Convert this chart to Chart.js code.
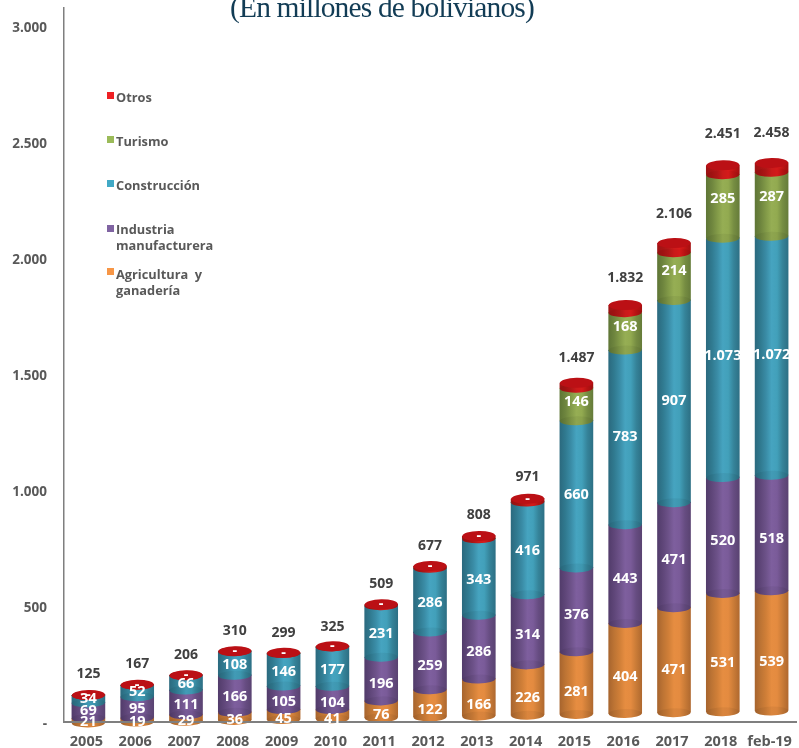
<!DOCTYPE html>
<html lang="es">
<head>
    <meta charset="UTF-8">
    <title>En millones de bolivianos</title>
    <script src="https://cdn.jsdelivr.net/npm/chart.js"></script>
    <style>
        body { margin: 0; background: #fff; }
        canvas { display: block; }
    </style>
</head>
<body>
    <canvas id="chart" width="799" height="748"></canvas>

    <script>
        const years = ['2005','2006','2007','2008','2009','2010','2011','2012','2013','2014','2015','2016','2017','2018','feb-19'];
        const agricultura = [21,19,29,36,45,41,76,122,166,226,281,404,471,531,539];
        const industria = [69,95,111,166,105,104,196,259,286,314,376,443,471,520,518];
        const construccion = [34,52,66,108,146,177,231,286,343,416,660,783,907,1073,1072];
        const turismo = [0,0,0,0,0,0,0,0,0,0,146,168,214,285,287];
        const otros = [1,1,0,0,3,3,6,10,13,15,24,34,43,42,42];
        const totals = [125,167,206,310,299,325,509,677,808,971,1487,1832,2106,2451,2458];
        const yTicks = [0,500,1000,1500,2000,2500,3000];

        const BAR_W = 33;
        const FONT = '"Open Sans", sans-serif';

        // left edge -> right edge of each cylinder
        const palettes = {
            agricultura: ['#a8652e','#bd7434','#d07f38','#e68d41','#e48b40','#c97b37','#b0692f'],
            industria: ['#523c6b','#5f4679','#6d5289','#7e5f9e','#7a5b99','#664c81','#5a4372'],
            construccion: ['#2b6a7f','#307a90','#3a8ca6','#46a4c0','#42a0ba','#358399','#2d7085'],
            turismo: ['#5f7636','#6e853e','#829a48','#96ae54','#92aa50','#768d42','#667c3a'],
            otros: ['#9c1414','#a81414','#b81818','#d41c1c','#e01c1c','#c01414','#a31010']
        };

        function barFill(name) {
            return function (c) {
                const x = c.chart.scales.x ? c.chart.scales.x.getPixelForValue(c.dataIndex) : NaN;
                // chart.js also asks before the layout is done
                if (!isFinite(x)) return palettes[name][3];
                const g = c.chart.ctx.createLinearGradient(x - BAR_W / 2, 0, x + BAR_W / 2, 0);
                palettes[name].forEach((col, i, all) => g.addColorStop(i / (all.length - 1), col));
                return g;
            };
        }

        // the bars lean up slightly towards the right, like the 3D original
        function lean(ctx) {
            ctx.transform(1, -0.0175, 0, 1, 0, 2.5);
        }

        const legendItems = [
            { color: '#ee2024', box: 92, text: 98, lines: ['Otros'] },
            { color: '#9bbb59', box: 136, text: 142, lines: ['Turismo'] },
            { color: '#41a9c6', box: 180, text: 186, lines: ['Construcción'] },
            { color: '#8064a2', box: 225, text: 230, lines: ['Industria', 'manufacturera'] },
            { color: '#f79646', box: 268, text: 275, lines: ['Agricultura  y', 'ganadería'] }
        ];

        const cylinders = {
            id: 'cylinders',
            beforeDatasetDraw(chart) {
                chart.ctx.save();
                lean(chart.ctx);
            },
            afterDatasetDraw(chart) {
                chart.ctx.restore();
            },
            afterDatasetsDraw(chart) {
                const ctx = chart.ctx;
                ctx.save();
                lean(ctx);
                chart.data.datasets.forEach((ds, d) => {
                    chart.getDatasetMeta(d).data.forEach((bar, i) => {
                        if (ds.data[i] === 0 && d !== 4) return;
                        const fill = barFill(ds.key)({ chart: chart, dataIndex: i });
                        ctx.beginPath();
                        ctx.ellipse(bar.x, bar.base, BAR_W / 2, 4.5, 0, 0, Math.PI * 2);
                        ctx.fillStyle = fill;
                        ctx.fill();
                        ctx.fillStyle = 'rgba(0,0,0,0.05)';
                        ctx.fill();
                    });
                });
                // red lid
                chart.getDatasetMeta(4).data.forEach(bar => {
                    ctx.beginPath();
                    ctx.ellipse(bar.x, bar.y, BAR_W / 2, 5, 0, 0, Math.PI * 2);
                    ctx.fillStyle = '#bb1015';
                    ctx.fill();
                });
                ctx.restore();
            },
            afterDraw(chart) {
                const ctx = chart.ctx;
                const y = chart.scales.y;
                const x = chart.scales.x;
                ctx.save();
                ctx.textAlign = 'center';

                // title, cut by the top of the page like the original
                ctx.textBaseline = 'alphabetic';
                ctx.font = '29.5px "Liberation Serif", serif';
                ctx.letterSpacing = '-0.85px';
                ctx.fillStyle = '#123c55';
                ctx.fillText('(En millones de bolivianos)', 382, 16.5);
                ctx.letterSpacing = '0px';

                // values inside the bars
                ctx.textBaseline = 'middle';
                ctx.font = 'bold 14.5px ' + FONT;
                ctx.fillStyle = '#fff';
                years.forEach((yr, i) => {
                    let sum = 0;
                    [agricultura, industria, construccion, turismo].forEach(serie => {
                        const v = serie[i];
                        if (v) ctx.fillText(v.toLocaleString('de-DE'), x.getPixelForValue(i), y.getPixelForValue(sum + v / 2) + 2);
                        sum += v;
                    });
                    const lid = chart.getDatasetMeta(4).data[i];
                    if (otros[i] < 20) ctx.fillText('-', lid.x, lid.y + 2.5 - 0.0175 * lid.x);
                });

                // totals above the bars
                ctx.fillStyle = '#404040';
                ctx.font = 'bold 14px ' + FONT;
                totals.forEach((t, i) => {
                    ctx.fillText(t.toLocaleString('de-DE'), x.getPixelForValue(i), y.getPixelForValue(t) - 19.5);
                });

                // legend
                ctx.textAlign = 'left';
                ctx.font = 'bold 12.8px ' + FONT;
                legendItems.forEach(item => {
                    ctx.fillStyle = item.color;
                    ctx.fillRect(107, item.box, 7, 7);
                    ctx.fillStyle = '#595959';
                    item.lines.forEach((line, n) => ctx.fillText(line, 116, item.text + n * 16.5));
                });
                ctx.restore();
            }
        };

        function dataset(key, label, data) {
            return { key: key, label: label, data: data, yAxisID: 'yBars', backgroundColor: barFill(key), barThickness: BAR_W, borderWidth: 0 };
        }

        // keep the plot box exactly where the axes sit in the reference
        function noPadding(s) {
            s.paddingTop = s.paddingBottom = s.paddingLeft = s.paddingRight = 0;
        }

        new Chart(document.getElementById('chart'), {
            type: 'bar',
            data: {
                labels: years,
                datasets: [
                    dataset('agricultura', 'Agricultura y ganadería', agricultura),
                    dataset('industria', 'Industria manufacturera', industria),
                    dataset('construccion', 'Construcción', construccion),
                    dataset('turismo', 'Turismo', turismo),
                    dataset('otros', 'Otros', otros)
                ]
            },
            options: {
                responsive: false,
                animation: false,
                layout: { padding: { top: 8, right: 3, left: 0, bottom: 0 } },
                plugins: { legend: { display: false }, title: { display: false }, tooltip: { enabled: false } },
                scales: {
                    x: {
                        stacked: true,
                        afterFit(s) { s.height = 26; noPadding(s); },
                        border: { color: '#7f7f7f', width: 2, z: 1 },
                        grid: { display: false },
                        ticks: { color: '#595959', font: { family: FONT, size: 14.5, weight: 'bold' }, padding: 3, labelOffset: -2, maxRotation: 0, autoSkip: false }
                    },
                    y: {
                        min: 0,
                        max: 3080,
                        afterFit(s) { s.width = 64; noPadding(s); },
                        afterBuildTicks(s) { s.ticks = yTicks.map(v => ({ value: v })); },
                        border: { color: '#7f7f7f', width: 1.5 },
                        grid: { display: false },
                        ticks: {
                            color: '#595959',
                            padding: 9,
                            labelOffset: 2,
                            font: { family: FONT, size: 13.5, weight: 'bold' },
                            callback: v => v === 0 ? '-' : v.toLocaleString('de-DE')
                        }
                    },
                    // the 3D bars run on a slightly tighter scale than the printed axis
                    yBars: { display: false, stacked: true, min: 0, max: 3202 }
                }
            },
            plugins: [cylinders]
        });
    </script>
</body>
</html>
